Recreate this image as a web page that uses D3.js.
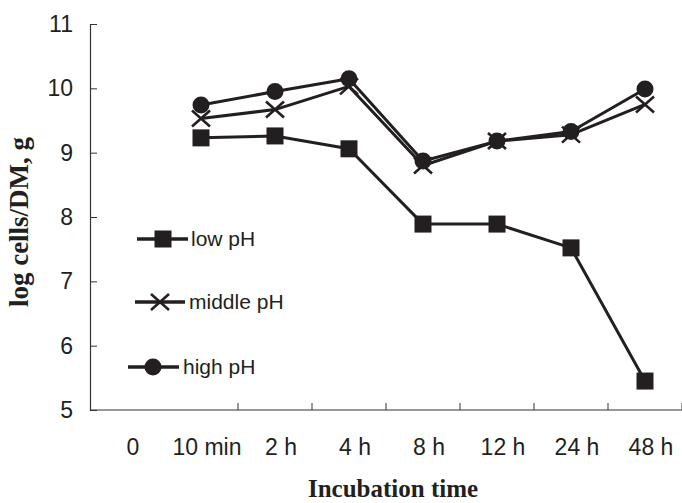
<!DOCTYPE html>
<html>
<head>
<meta charset="utf-8">
<script src="https://cdn.jsdelivr.net/npm/d3@7"></script>
<style>
  html, body { margin: 0; padding: 0; background: #fff; }
  svg { display: block; }
</style>
</head>
<body>
<script>
const categories = ["0", "10 min", "2 h", "4 h", "8 h", "12 h", "24 h", "48 h"];
const yTicks = [5, 6, 7, 8, 9, 10, 11];
const seriesNames = ["low pH", "middle pH", "high pH"];
const lowPH    = [null, 9.23, 9.26, 9.06, 7.89, 7.89, 7.52, 5.45];
const middlePH = [null, 9.53, 9.67, 10.03, 8.80, 9.18, 9.28, 9.75];
const highPH   = [null, 9.74, 9.95, 10.15, 8.87, 9.18, 9.33, 9.99];

const W = 682, H = 503;
const ink = "#231f20";
const svg = d3.select("body").append("svg").attr("width", W).attr("height", H);

const x = d3.scaleBand().domain(categories).range([90, 682]).padding(0);
const y = d3.scaleLinear().domain([5, 11]).range([410, 24]);
const cx = c => x(c) + x.bandwidth() / 2;

// Y axis
const yAxis = svg.append("g").attr("transform", "translate(90,0)")
  .call(d3.axisLeft(y).tickValues(yTicks).tickFormat(d3.format("d")).tickSize(-7).tickPadding(17));
yAxis.select(".domain").attr("stroke", "#333").attr("stroke-width", 1.2);
yAxis.selectAll(".tick line").attr("stroke", "#333").attr("stroke-width", 1);
yAxis.selectAll(".tick text").attr("font-family", "Liberation Sans, Arial, sans-serif")
  .attr("font-size", 23).attr("fill", ink);

// X axis line
svg.append("line").attr("x1", 90).attr("x2", 682).attr("y1", y(5)).attr("y2", y(5))
  .attr("stroke", "#333").attr("stroke-width", 1.2);
// x ticks at band boundaries
svg.append("g").selectAll("line").data(categories.slice(1))
  .join("line")
  .attr("x1", c => x(c) + x.bandwidth()).attr("x2", c => x(c) + x.bandwidth())
  .attr("y1", y(5)).attr("y2", y(5) - 7)
  .attr("stroke", "#333").attr("stroke-width", 1);
// x labels
svg.append("g").selectAll("text").data(categories)
  .join("text")
  .attr("x", c => cx(c) + 6).attr("y", 455)
  .attr("text-anchor", "middle")
  .attr("font-family", "Liberation Sans, Arial, sans-serif")
  .attr("font-size", 23).attr("fill", ink)
  .text(c => c);

// axis titles
svg.append("text").attr("x", 393).attr("y", 497).attr("text-anchor", "middle")
  .attr("font-family", "Liberation Serif, Times New Roman, serif").attr("font-weight", "bold")
  .attr("font-size", 25).attr("fill", ink).text("Incubation time");
svg.append("text").attr("transform", "translate(28,222) rotate(-90)").attr("text-anchor", "middle")
  .attr("font-family", "Liberation Serif, Times New Roman, serif").attr("font-weight", "bold")
  .attr("font-size", 27).attr("fill", ink).text("log cells/DM, g");

// series
const series = [
  { name: seriesNames[0], values: lowPH, marker: "square" },
  { name: seriesNames[1], values: middlePH, marker: "cross" },
  { name: seriesNames[2], values: highPH, marker: "circle" }
];

const line = d3.line().defined(d => d.v != null).x(d => cx(d.c)).y(d => y(d.v));

function drawMarker(g, type, px, py) {
  if (type === "square") {
    g.append("rect").attr("x", px - 8.5).attr("y", py - 8.5).attr("width", 17).attr("height", 17).attr("fill", ink);
  } else if (type === "circle") {
    g.append("circle").attr("cx", px).attr("cy", py).attr("r", 8.5).attr("fill", ink);
  } else {
    g.append("path").attr("d", `M${px-9},${py-8}L${px+9},${py+8}M${px-9},${py+8}L${px+9},${py-8}`)
      .attr("stroke", ink).attr("stroke-width", 2.6).attr("fill", "none");
  }
}

series.forEach(s => {
  const pts = categories.map((c, i) => ({ c, v: s.values[i] }));
  svg.append("path").datum(pts).attr("d", line).attr("fill", "none")
    .attr("stroke", ink).attr("stroke-width", 3).attr("stroke-linejoin", "round");
  const g = svg.append("g");
  pts.filter(d => d.v != null).forEach(d => drawMarker(g, s.marker, cx(d.c), y(d.v)));
});

// legend
const legend = [
  { x1: 137, x2: 188, yy: 239, mx: 163, tx: 191 },
  { x1: 135, x2: 185, yy: 302, mx: 160, tx: 189 },
  { x1: 128, x2: 179, yy: 367, mx: 153, tx: 183 }
];
series.forEach((s, i) => {
  const L = legend[i];
  const g = svg.append("g");
  g.append("line").attr("x1", L.x1).attr("x2", L.x2).attr("y1", L.yy).attr("y2", L.yy)
    .attr("stroke", ink).attr("stroke-width", 3.5);
  drawMarker(g, s.marker, L.mx, L.yy);
  g.append("text").attr("x", L.tx).attr("y", L.yy).attr("dy", "0.35em")
    .attr("font-family", "Liberation Sans, Arial, sans-serif").attr("font-size", 21)
    .attr("fill", ink).text(s.name);
});
</script>
</body>
</html>
